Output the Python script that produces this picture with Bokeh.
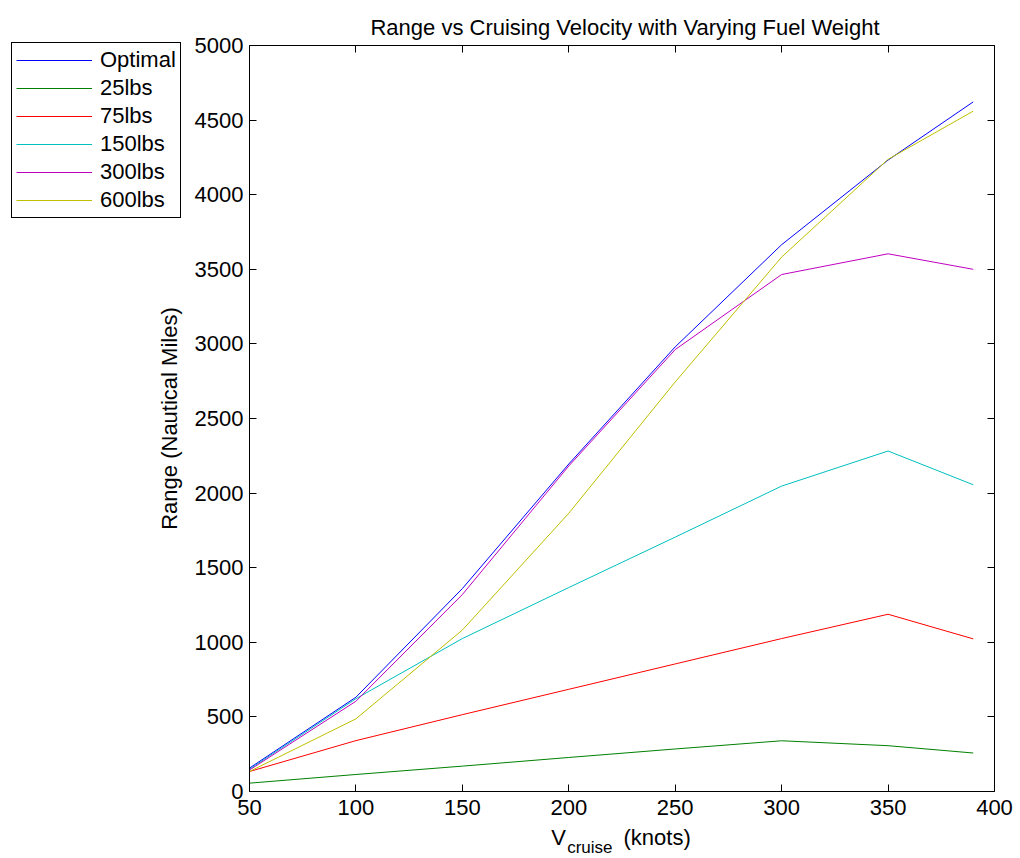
from bokeh.plotting import figure
from bokeh.models import (LinearAxis, Range1d, FixedTicker, Legend, LegendItem, Label)
from bokeh.embed import file_html
from bokeh.resources import INLINE

# ---- data ----
v_cruise = [50, 100, 150, 200, 250, 300, 350, 390]
optimal = [157, 632, 1360, 2195, 2980, 3665, 4232, 4622]
lbs25 = [56, 114, 170, 228, 285, 340, 307, 258]
lbs75 = [134, 341, 515, 685, 855, 1025, 1188, 1023]
lbs150 = [150, 622, 1025, 1367, 1705, 2047, 2282, 2056]
lbs300 = [144, 605, 1320, 2182, 2962, 3465, 3604, 3500]
lbs600 = [134, 487, 1082, 1865, 2745, 3582, 4237, 4560]

series_names = ["Optimal", "25lbs", "75lbs", "150lbs", "300lbs", "600lbs"]
series_values = [optimal, lbs25, lbs75, lbs150, lbs300, lbs600]
series_colors = ["#0000ff", "#008000", "#ff0000", "#00bfbf", "#bf00bf", "#bfbf00"]

x_ticks = [50, 100, 150, 200, 250, 300, 350, 400]
y_ticks = [0, 500, 1000, 1500, 2000, 2500, 3000, 3500, 4000, 4500, 5000]
x_lim = (50, 400)
y_lim = (0, 5000)

title_text = "Range vs Cruising Velocity with Varying Fuel Weight"
y_label = "Range (Nautical Miles)"
x_label_main = "V"
x_label_sub = "cruise"
x_label_unit = "(knots)"

FONT = "Liberation Sans"
FS = "22px"

# ---- layout (pixels) ----
W, H = 1020, 858
BOX_L, BOX_R, BOX_T, BOX_B = 249, 994, 45, 791

sx = (BOX_R - BOX_L) / (x_lim[1] - x_lim[0])
sy = (BOX_B - BOX_T) / (y_lim[1] - y_lim[0])
xr = Range1d(x_lim[0] - BOX_L / sx, x_lim[1] + (W - BOX_R) / sx)
yr = Range1d(y_lim[0] - (H - BOX_B) / sy, y_lim[1] + BOX_T / sy)

p = figure(width=W, height=H, output_backend="svg", toolbar_location=None,
           x_range=xr, y_range=yr, min_border=0, x_axis_location=None,
           y_axis_location=None)
p.title = None
p.background_fill_color = "white"
p.border_fill_color = "white"
p.grid.visible = False
p.outline_line_color = None


def style_axis(ax):
    ax.major_tick_in = 7
    ax.major_tick_out = 0
    ax.minor_tick_in = 0
    ax.minor_tick_out = 0
    ax.axis_line_color = "black"
    ax.axis_line_width = 1
    ax.major_tick_line_color = "black"
    ax.major_label_text_font = FONT
    ax.major_label_text_font_size = FS
    ax.major_label_text_color = "black"


bottom_ax = LinearAxis(ticker=FixedTicker(ticks=x_ticks), fixed_location=y_lim[0], bounds=x_lim)
left_ax = LinearAxis(ticker=FixedTicker(ticks=y_ticks), fixed_location=x_lim[0], bounds=y_lim)
top_ax = LinearAxis(ticker=FixedTicker(ticks=x_ticks), fixed_location=y_lim[1], bounds=x_lim,
                    major_label_overrides={t: "" for t in x_ticks})
right_ax = LinearAxis(ticker=FixedTicker(ticks=y_ticks), fixed_location=x_lim[1], bounds=y_lim,
                      major_label_overrides={t: "" for t in y_ticks})
for ax in (bottom_ax, left_ax, top_ax, right_ax):
    style_axis(ax)
bottom_ax.major_label_standoff = 8
left_ax.major_label_standoff = 6
left_ax.axis_label = y_label
left_ax.axis_label_text_font = FONT
left_ax.axis_label_text_font_size = FS
left_ax.axis_label_text_font_style = "normal"
left_ax.axis_label_text_color = "black"
left_ax.axis_label_standoff = 10
for ax in (top_ax, right_ax):
    ax.major_label_standoff = 0
    ax.major_label_text_font_size = "1px"
p.add_layout(bottom_ax, "below")
p.add_layout(left_ax, "left")
p.add_layout(top_ax, "above")
p.add_layout(right_ax, "right")

items = []
for name, vals, col in zip(series_names, series_values, series_colors):
    r = p.line(v_cruise, vals, line_color=col, line_width=1)
    items.append(LegendItem(label=name, renderers=[r]))

legend = Legend(items=items, location=(11, H - 218))
legend.label_text_font = FONT
legend.label_text_font_size = FS
legend.label_text_color = "black"
legend.glyph_width = 76
legend.glyph_height = 26
legend.label_height = 26
legend.label_standoff = 8
legend.spacing = 2
legend.padding = 4
legend.margin = 0
legend.border_line_color = "black"
legend.border_line_alpha = 1
legend.border_line_width = 1
legend.background_fill_color = "white"
legend.background_fill_alpha = 1
p.add_layout(legend, "center")

# title
p.add_layout(Label(x=624.5, y=H - 27, x_units="screen", y_units="screen", text=title_text,
                   text_font=FONT, text_font_size=FS, text_color="black",
                   text_align="center", text_baseline="alphabetic"))

# x axis label with subscript
p.add_layout(Label(x=550.7, y=H - 837, x_units="screen", y_units="screen", text=x_label_main,
                   text_font=FONT, text_font_size=FS, text_color="black",
                   text_baseline="alphabetic"))
p.add_layout(Label(x=566.7, y=H - 847, x_units="screen", y_units="screen", text=x_label_sub,
                   text_font=FONT, text_font_size="17px", text_color="black",
                   text_baseline="alphabetic"))
p.add_layout(Label(x=623, y=H - 837, x_units="screen", y_units="screen", text=x_label_unit,
                   text_font=FONT, text_font_size=FS, text_color="black",
                   text_baseline="alphabetic"))

open("out.html", "w").write(file_html(p, INLINE))
